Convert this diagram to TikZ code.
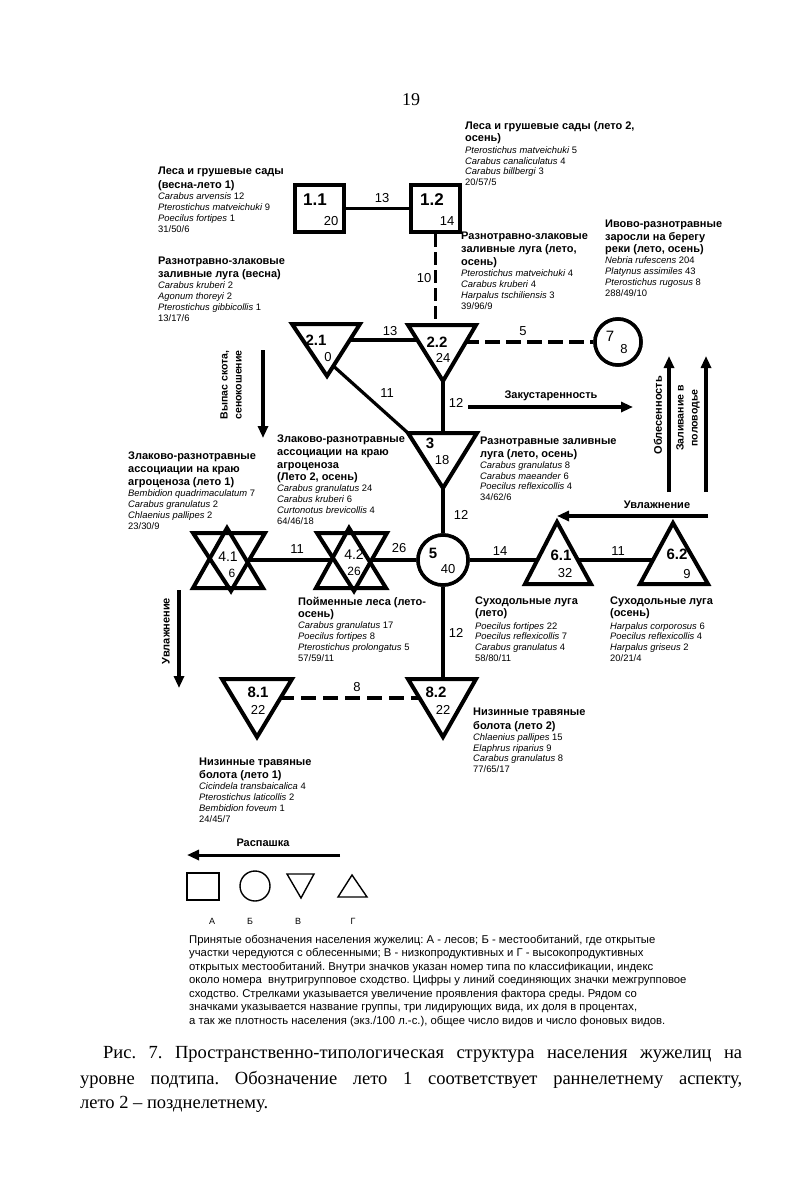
\documentclass[tikz,border=0pt]{standalone}
\usepackage{fontspec}
\setmainfont{Liberation Serif}
\setsansfont{Liberation Sans}
\usetikzlibrary{arrows.meta}
\newcommand\blkhd{\bfseries\fontsize{11}{10.8}\selectfont}
\newcommand\blksp{\mdseries\fontsize{9.4}{10.8}\selectfont}
\newcommand\spn[1]{\textit{#1}}
\tikzset{
 conn/.style={line width=3.2pt},
 dconn/.style={line width=3.2pt, dash pattern=on 15pt off 6pt},
 shp/.style={line width=4pt, line join=miter},
 lshp/.style={line width=1.4pt},
 elab/.style={font=\sffamily\fontsize{13}{13}\selectfont, inner sep=0pt},
 tnum/.style={font=\sffamily\bfseries\fontsize{15}{15}\selectfont, inner sep=0pt},
 tval/.style={font=\sffamily\fontsize{13}{13}\selectfont, inner sep=0pt},
 blk/.style={anchor=north west, inner sep=0pt, align=left, font=\sffamily\fontsize{9.4}{10.8}\selectfont},
 arr/.style={line width=3.2pt, -{Triangle[length=12pt,width=10pt]}},
 alab/.style={font=\sffamily\bfseries\fontsize{11}{11}\selectfont, inner sep=0pt},
 sqr/.style={draw, line width=4pt, fill=white, minimum width=49pt, minimum height=47pt, inner sep=0pt},
 crc/.style={draw, circle, line width=3.5pt, fill=white, inner sep=0pt},
}
\begin{document}
\frenchspacing
\begin{tikzpicture}[x=1pt,y=-1pt]
\useasboundingbox (0,0) rectangle (800,1185);
\fill[white] (0,0) rectangle (800,1185);

% page number
\node[font=\rmfamily\fontsize{18}{18}\selectfont, inner sep=0pt] (pg) at (411,100) {19};

% ---------- coordinates of shapes ----------
% triangles pointing down
\coordinate (t21-tl) at (292,324); \coordinate (t21-tr) at (360,324); \coordinate (t21-ap) at (327,376);
\coordinate (t21) at (327,340); \coordinate (t21-low) at (330,363);
\coordinate (t22-tl) at (408,325); \coordinate (t22-tr) at (476,325); \coordinate (t22-ap) at (443,381);
\coordinate (t22) at (443,340); \coordinate (t22d) at (443,342);
\coordinate (t3-tl) at (408,433); \coordinate (t3-tr) at (477,433); \coordinate (t3-ap) at (443,488);
\coordinate (t3) at (443,450);
\coordinate (t81-tl) at (222,679); \coordinate (t81-tr) at (292,679); \coordinate (t81-ap) at (257,737);
\coordinate (t81) at (257,698);
\coordinate (t82-tl) at (408,679); \coordinate (t82-tr) at (476,679); \coordinate (t82-ap) at (443,737);
\coordinate (t82) at (443,698);
% triangles pointing up
\coordinate (t61-ap) at (557,522); \coordinate (t61-bl) at (525,584); \coordinate (t61-br) at (591,584);
\coordinate (t61) at (557,560);
\coordinate (t62-ap) at (673,523); \coordinate (t62-bl) at (640,584); \coordinate (t62-br) at (708,584);
\coordinate (t62) at (673,560);
% double triangles
\coordinate (f41-tl) at (193,533); \coordinate (f41-tr) at (265,533); \coordinate (f41-ap) at (231,591);
\coordinate (f41-uap) at (227,528); \coordinate (f41-bl) at (193,588); \coordinate (f41-br) at (263,588);
\coordinate (f41) at (229,560);
\coordinate (f42-tl) at (317,533); \coordinate (f42-tr) at (387,533); \coordinate (f42-ap) at (354,591);
\coordinate (f42-uap) at (349,528); \coordinate (f42-bl) at (316,588); \coordinate (f42-br) at (386,588);
\coordinate (f42) at (352,560);
% squares and circles
\node[sqr] (s11) at (319.5,208.5) {};
\node[sqr] (s12) at (435.5,208.5) {};
\node[crc, minimum size=50pt] (c5) at (443,560) {};
\node[crc, minimum size=46pt] (c7) at (618,342) {};

% ---------- connectors (drawn below the shapes) ----------
\draw[conn] (s11) -- (s12);
\draw[conn, dash pattern=on 13pt off 5pt] (s12.south) -- (s12.south |- t22-tl);
\draw[conn] (t21) -- (t22);
\draw[dconn] (t22d) -- (c7);
\draw[conn] (t21-low) -- (t3-tl);
\draw[conn] (t22) -- (t3);
\draw[conn] (t3) -- (c5);
\draw[conn] (f41) -- (f42);
\draw[conn] (f42) -- (c5);
\draw[conn] (c5) -- (t61);
\draw[conn] (t61) -- (t62);
\draw[conn] (c5) -- (t82);
\draw[line width=3.2pt, dash pattern=on 15pt off 7pt] (t81) -- (t82);

% ---------- shapes ----------
\node[sqr] at (s11) {};
\node[sqr] at (s12) {};
\node[crc, minimum size=50pt] at (c5) {};
\node[crc, minimum size=46pt] at (c7) {};
\foreach \t in {t21,t22,t3,t81,t82}{
  \filldraw[shp, fill=white] (\t-tl) -- (\t-tr) -- (\t-ap) -- cycle;
}
\foreach \t in {t61,t62}{
  \filldraw[shp, fill=white] (\t-ap) -- (\t-br) -- (\t-bl) -- cycle;
}
\foreach \t in {f41,f42}{
  \fill[white] (\t-tl) -- (\t-tr) -- (\t-ap) -- cycle;
  \fill[white] (\t-uap) -- (\t-br) -- (\t-bl) -- cycle;
  \draw[shp] (\t-tl) -- (\t-tr) -- (\t-ap) -- cycle;
  \draw[shp] (\t-uap) -- (\t-br) -- (\t-bl) -- cycle;
}

% ---------- shape texts ----------
\node[tnum, font=\sffamily\bfseries\fontsize{17}{17}\selectfont] (s11n) at (315,200) {1.1};
\node[tval] (s11v) at (331,221) {20};
\node[tnum, font=\sffamily\bfseries\fontsize{17}{17}\selectfont] (s12n) at (432,200) {1.2};
\node[tval] (s12v) at (447,221) {14};
\node[tnum] (t21n) at (316,340) {2.1};
\node[tval] (t21v) at (328,357) {0};
\node[tnum] (t22n) at (437,342) {2.2};
\node[tval] (t22v) at (443,358) {24};
\node[tnum] (t3n) at (430,443) {3};
\node[tval] (t3v) at (442,460) {18};
\node[tnum] (c5n) at (433,553) {5};
\node[tval] (c5v) at (448,569) {40};
\node[tnum, font=\sffamily\fontsize{15}{15}\selectfont] (c7n) at (610,336) {7};
\node[tval] (c7v) at (624,349) {8};
\node[tnum, font=\sffamily\fontsize{14}{14}\selectfont] (f41n) at (228,557) {4.1};
\node[tval, font=\sffamily\fontsize{12}{12}\selectfont] (f41v) at (232,573) {6};
\node[tnum, font=\sffamily\fontsize{14}{14}\selectfont] (f42n) at (354,555) {4.2};
\node[tval, font=\sffamily\fontsize{12}{12}\selectfont] (f42v) at (354,571) {26};
\node[tnum] (t61n) at (561,555) {6.1};
\node[tval] (t61v) at (565,573) {32};
\node[tnum] (t62n) at (677,554) {6.2};
\node[tval] (t62v) at (687,574) {9};
\node[tnum] (t81n) at (258,692) {8.1};
\node[tval] (t81v) at (258,710) {22};
\node[tnum] (t82n) at (436,692) {8.2};
\node[tval] (t82v) at (443,710) {22};

% ---------- connector labels ----------
\node[elab] (l1) at (382,198) {13};
\node[elab] (l2) at (424,278) {10};
\node[elab] (l3) at (390,331) {13};
\node[elab] (l4) at (523,331) {5};
\node[elab] (l5) at (387,393) {11};
\node[elab] (l6) at (456,403) {12};
\node[elab] (l7) at (461,515) {12};
\node[elab] (l8) at (297,549) {11};
\node[elab] (l9) at (399,548) {26};
\node[elab] (l10) at (500,551) {14};
\node[elab] (l11) at (618,551) {11};
\node[elab] (l12) at (456,633) {12};
\node[elab] (l13) at (357,687) {8};

% ---------- factor arrows ----------
\coordinate (zkA) at (468,407); \coordinate (zkB) at (633,407);
\draw[arr] (zkA) -- (zkB);
\node[alab] (zkL) at (551,396) {Закустаренность};

\coordinate (vpA) at (263,350); \coordinate (vpB) at (263,438);
\draw[arr] (vpA) -- (vpB);
\node[alab, rotate=90, align=center, font=\sffamily\bfseries\fontsize{10.5}{14}\selectfont] (vpL) at (231,385) {Выпас скота,\\сенокошение};

\coordinate (obA) at (669,492); \coordinate (obB) at (669,356);
\draw[arr] (obA) -- (obB);
\node[alab, rotate=90] (obL) at (658,415) {Облесенность};

\coordinate (zlA) at (706,492); \coordinate (zlB) at (706,356);
\draw[arr] (zlA) -- (zlB);
\node[alab, rotate=90, align=center, font=\sffamily\bfseries\fontsize{10.5}{14}\selectfont] (zlL) at (688,418) {Заливание в\\половодье};

\coordinate (uvA) at (708,516); \coordinate (uvB) at (557,516);
\draw[arr] (uvA) -- (uvB);
\node[alab] (uvL) at (657,505) {Увлажнение};

\coordinate (uwA) at (179,590); \coordinate (uwB) at (179,688);
\draw[arr] (uwA) -- (uwB);
\node[alab, rotate=90] (uwL) at (166,631) {Увлажнение};

% ---------- group descriptions ----------
\node[blk] (b11) at (158,167) {\blkhd Леса и грушевые сады\\[2.5pt]
 \blkhd (весна-лето 1)\\[1pt]
 \blksp\spn{Carabus arvensis} 12\\
 \blksp\spn{Pterostichus matveichuki} 9\\
 \blksp\spn{Poecilus fortipes} 1\\
 \blksp 31/50/6};

\node[blk] (b21) at (158,257) {\blkhd Разнотравно-злаковые\\[2pt]
 \blkhd заливные луга (весна)\\[0.5pt]
 \blksp\spn{Carabus kruberi} 2\\
 \blksp\spn{Agonum thoreyi} 2\\
 \blksp\spn{Pterostichus gibbicollis} 1\\
 \blksp 13/17/6};

\node[blk] (b12) at (465,121) {\blkhd Леса и грушевые сады (лето 2,\\[2pt]
 \blkhd осень)\\[0.5pt]
 \blksp\spn{Pterostichus matveichuki} 5\\
 \blksp\spn{Carabus canaliculatus} 4\\
 \blksp\spn{Carabus billbergi} 3\\
 \blksp 20/57/5};

\node[blk] (b22) at (461,232) {\blkhd Разнотравно-злаковые\\[2pt]
 \blkhd заливные луга (лето,\\[2pt]
 \blkhd осень)\\[0.5pt]
 \blksp\spn{Pterostichus matveichuki} 4\\
 \blksp\spn{Carabus kruberi} 4\\
 \blksp\spn{Harpalus tschiliensis} 3\\
 \blksp 39/96/9};

\node[blk] (b7) at (605,220) {\blkhd Ивово-разнотравные\\[1.5pt]
 \blkhd заросли на берегу\\[1.5pt]
 \blkhd реки (лето, осень)\\[0.5pt]
 \blksp\spn{Nebria rufescens} 204\\
 \blksp\spn{Platynus assimiles} 43\\
 \blksp\spn{Pterostichus rugosus} 8\\
 \blksp 288/49/10};

\node[blk] (b3) at (480,437) {\blkhd Разнотравные заливные\\[1.5pt]
 \blkhd луга (лето, осень)\\[0.5pt]
 \blksp\spn{Carabus granulatus} 8\\
 \blksp\spn{Carabus maeander} 6\\
 \blksp\spn{Poecilus reflexicollis} 4\\
 \blksp 34/62/6};

\node[blk] (b42a) at (277,435) {\blkhd Злаково-разнотравные\\[1.8pt]
 \blkhd ассоциации на краю\\[1.8pt]
 \blkhd агроценоза\\[1.8pt]
 \blkhd (Лето 2, осень)\\[0.5pt]
 \blksp\spn{Carabus granulatus} 24\\
 \blksp\spn{Carabus kruberi} 6\\
 \blksp\spn{Curtonotus brevicollis} 4\\
 \blksp 64/46/18};

\node[blk] (b41) at (128,452) {\blkhd Злаково-разнотравные\\[2pt]
 \blkhd ассоциации на краю\\[2pt]
 \blkhd агроценоза (лето 1)\\[0.5pt]
 \blksp\spn{Bembidion quadrimaculatum} 7\\
 \blksp\spn{Carabus granulatus} 2\\
 \blksp\spn{Chlaenius pallipes} 2\\
 \blksp 23/30/9};

\node[blk] (b42b) at (298,597) {\blkhd Пойменные леса (лето-\\[1.2pt]
 \blkhd осень)\\[0.5pt]
 \blksp\spn{Carabus granulatus} 17\\
 \blksp\spn{Poecilus fortipes} 8\\
 \blksp\spn{Pterostichus prolongatus} 5\\
 \blksp 57/59/11};

\node[blk] (b61) at (475,597) {\blkhd Суходольные луга\\[1.2pt]
 \blkhd (лето)\\[1.5pt]
 \blksp\spn{Poecilus fortipes} 22\\
 \blksp\spn{Poecilus reflexicollis} 7\\
 \blksp\spn{Carabus granulatus} 4\\
 \blksp 58/80/11};

\node[blk] (b62) at (610,597) {\blkhd Суходольные луга\\[1.2pt]
 \blkhd (осень)\\[1.5pt]
 \blksp\spn{Harpalus corporosus} 6\\
 \blksp\spn{Poecilus reflexicollis} 4\\
 \blksp\spn{Harpalus griseus} 2\\
 \blksp 20/21/4};

\node[blk] (b82) at (473,708) {\blkhd Низинные травяные\\[2.5pt]
 \blkhd болота (лето 2)\\[0.5pt]
 \blksp\spn{Chlaenius pallipes} 15\\
 \blksp\spn{Elaphrus riparius} 9\\
 \blksp\spn{Carabus granulatus} 8\\
 \blksp 77/65/17};

\node[blk] (b81) at (199,758) {\blkhd Низинные травяные\\[2pt]
 \blkhd болота (лето 1)\\[0.5pt]
 \blksp\spn{Cicindela transbaicalica} 4\\
 \blksp\spn{Pterostichus laticollis} 2\\
 \blksp\spn{Bembidion foveum} 1\\
 \blksp 24/45/7};

% ---------- legend ----------
\coordinate (rpA) at (340,855); \coordinate (rpB) at (187,855);
\draw[arr, line width=3pt] (rpA) -- (rpB);
\node[alab] (rpL) at (263,843) {Распашка};

\node[draw, lshp, minimum width=32pt, minimum height=27pt, inner sep=0pt] (gA) at (203,886.5) {};
\node[draw, lshp, circle, minimum size=30pt, inner sep=0pt] (gB) at (255,886) {};
\coordinate (gV-tl) at (287,874); \coordinate (gV-tr) at (314,874); \coordinate (gV-ap) at (301,898);
\draw[lshp] (gV-tl) -- (gV-tr) -- (gV-ap) -- cycle;
\coordinate (gG-ap) at (352,875); \coordinate (gG-bl) at (338,897); \coordinate (gG-br) at (367,897);
\draw[lshp] (gG-ap) -- (gG-br) -- (gG-bl) -- cycle;
\node[font=\sffamily\fontsize{9}{9}\selectfont, inner sep=0pt] (gAl) at (212,921) {А};
\node[font=\sffamily\fontsize{9}{9}\selectfont, inner sep=0pt] (gBl) at (250,921) {Б};
\node[font=\sffamily\fontsize{9}{9}\selectfont, inner sep=0pt] (gVl) at (298,921) {В};
\node[font=\sffamily\fontsize{9}{9}\selectfont, inner sep=0pt] (gGl) at (353,921) {Г};

\node[anchor=north west, inner sep=0pt, align=left, font=\sffamily\fontsize{11.3}{13.5}\selectfont] (leg) at (189,934.5) {%
Принятые обозначения населения жужелиц: А - лесов; Б - местообитаний, где открытые\\
участки чередуются с облесенными; В - низкопродуктивных и Г - высокопродуктивных\\
открытых местообитаний. Внутри значков указан номер типа по классификации, индекс\\
около номера\ \ внутригрупповое сходство. Цифры у линий соединяющих значки межгрупповое\\
сходство. Стрелками указывается увеличение проявления фактора среды. Рядом со\\
значками указывается название группы, три лидирующих вида, их доля в процентах,\\
а так же плотность населения (экз./100 л.-с.), общее число видов и число фоновых видов.};

% ---------- caption ----------
\node[anchor=base west, inner sep=0pt, font=\rmfamily\fontsize{18.5}{20}\selectfont] (cap1) at (103,1058) {\makebox[639pt][s]{Рис. 7. Пространственно-типологическая структура населения жужелиц на}};
\node[anchor=base west, inner sep=0pt, font=\rmfamily\fontsize{18.5}{20}\selectfont] (cap2) at (80,1084) {\makebox[662pt][s]{уровне подтипа. Обозначение лето 1 соответствует раннелетнему аспекту,}};
\node[anchor=base west, inner sep=0pt, font=\rmfamily\fontsize{18.5}{20}\selectfont] (cap3) at (80,1108) {лето 2 – позднелетнему.};
\end{tikzpicture}
\end{document}
